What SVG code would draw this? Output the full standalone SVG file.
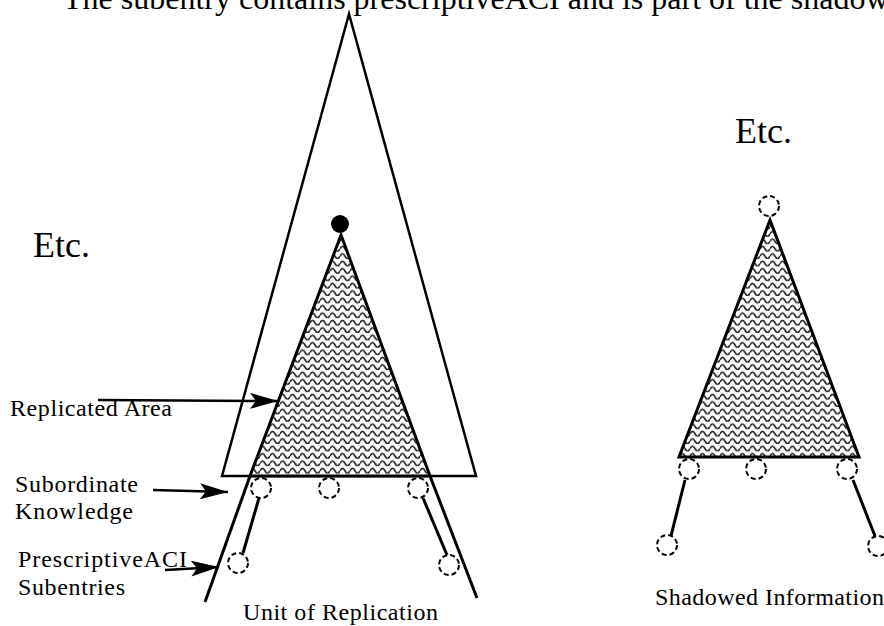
<svg xmlns="http://www.w3.org/2000/svg" width="884" height="626" viewBox="0 0 884 626">
<style>
  text { font-family: "Liberation Serif", "Times New Roman", serif; fill: #000; }
  .edge { fill: none; stroke: #000; stroke-width: 2.5; stroke-linejoin: miter; }
  .tri { fill: url(#wave); stroke: #000; stroke-width: 3; stroke-linejoin: miter; }
  .dc { fill: #fff; stroke: #000; stroke-width: 2; stroke-dasharray: 5 3; }
  .ln { stroke: #000; stroke-width: 3; fill: none; }
  .arr { stroke: #000; stroke-width: 2.5; fill: none; marker-end: url(#ah); }
  .lbl { font-size: 24px; }
</style>
<defs>
  <pattern id="wave" patternUnits="userSpaceOnUse" width="10" height="7.4">
    <rect width="10" height="7.4" fill="#fff"/>
    <path d="M0 4.6 Q2.5 -0.2 5 4.6 T10 4.6" fill="none" stroke="#2a2a2a" stroke-width="1.7"/>
  </pattern>
  <marker id="ah" markerUnits="userSpaceOnUse" markerWidth="30" markerHeight="18" refX="28" refY="8" orient="auto">
    <path d="M0 0 L28 8 L0 16 L6 8 Z" fill="#000"/>
  </marker>
</defs>

<text x="63" y="9" font-size="32">The subentry contains prescriptiveACI and is part of the shadow</text>

<g id="unit-of-replication">
  <polygon class="edge" points="349,14 222,476 476,476"/>
</g>

<g id="replicated-area">
  <polygon class="tri" points="341,235 250,476 430,476"/>
  <circle cx="340" cy="224" r="9" fill="#000"/>
</g>

<g id="connectors">
  <line class="ln" x1="250" y1="476" x2="205" y2="602"/>
  <line class="ln" x1="430" y1="476" x2="477" y2="598"/>
  <line class="ln" x1="259" y1="498" x2="243" y2="553"/>
  <line class="ln" x1="423" y1="498" x2="447" y2="555"/>
  <line class="ln" x1="685" y1="480" x2="671" y2="536"/>
  <line class="ln" x1="853" y1="480" x2="875" y2="536"/>
  <line class="arr" x1="98" y1="400" x2="278" y2="401"/>
  <line class="arr" x1="153" y1="490" x2="228" y2="492"/>
  <line class="arr" x1="165" y1="570" x2="219" y2="567"/>
</g>

<g id="subordinate-knowledge">
  <circle class="dc" cx="261" cy="488" r="10"/>
  <circle class="dc" cx="329" cy="488" r="10"/>
  <circle class="dc" cx="418" cy="488" r="10"/>
</g>

<g id="prescriptive-aci-subentries">
  <circle class="dc" cx="238" cy="563" r="10"/>
  <circle class="dc" cx="449" cy="565" r="10"/>
</g>

<g id="shadowed-information">
  <polygon class="tri" points="770,220 679,457 859,457"/>
  <circle class="dc" cx="769" cy="206" r="10"/>
  <circle class="dc" cx="689" cy="469" r="10"/>
  <circle class="dc" cx="756" cy="469" r="10"/>
  <circle class="dc" cx="847" cy="469" r="10"/>
  <circle class="dc" cx="667" cy="545" r="10"/>
  <circle class="dc" cx="878" cy="546" r="10"/>
</g>

<g id="labels">
  <text x="33" y="257" font-size="36">Etc.</text>
  <text x="735" y="143" font-size="36">Etc.</text>
  <text class="lbl" x="10" y="416" textLength="162" lengthAdjust="spacing">Replicated Area</text>
  <text class="lbl" x="15" y="492" textLength="123" lengthAdjust="spacing">Subordinate</text>
  <text class="lbl" x="15" y="519" textLength="118" lengthAdjust="spacing">Knowledge</text>
  <text class="lbl" x="18" y="567" textLength="169" lengthAdjust="spacing">PrescriptiveACI</text>
  <text class="lbl" x="18" y="595" textLength="107" lengthAdjust="spacing">Subentries</text>
  <text class="lbl" x="243" y="620" textLength="195" lengthAdjust="spacing">Unit of Replication</text>
  <text class="lbl" x="655" y="605" textLength="229" lengthAdjust="spacing">Shadowed Information</text>
</g>
</svg>
